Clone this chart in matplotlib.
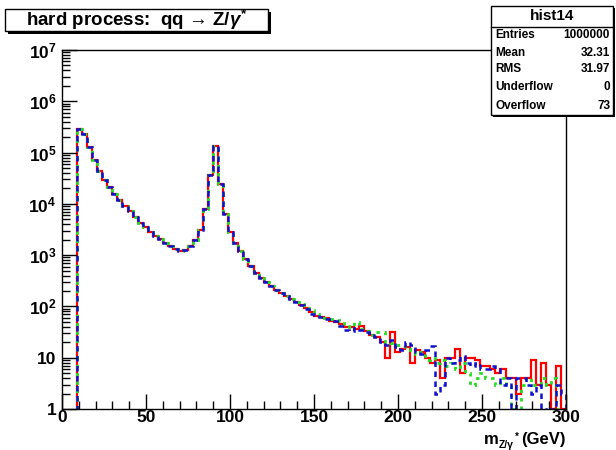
import numpy as np
import matplotlib
matplotlib.use("Agg")
import matplotlib.pyplot as plt
from matplotlib.patches import Rectangle
from matplotlib.ticker import FixedLocator, MultipleLocator, FuncFormatter

plt.rcParams['font.family'] = ['Liberation Sans', 'DejaVu Sans']
plt.rcParams['font.weight'] = 'bold'
plt.rcParams['mathtext.fontset'] = 'custom'
plt.rcParams['mathtext.rm'] = 'Liberation Sans:bold'
plt.rcParams['mathtext.it'] = 'Liberation Sans:italic:bold'
plt.rcParams['mathtext.bf'] = 'Liberation Sans:bold'

# histogramme: 100 bins de 3 GeV entre 0 et 300
bordas = np.arange(0, 301, 3)

# parte comum (0 - 141 GeV), igual nas tres curvas
comum = [0, 0, 0,
         282000, 229000, 126000, 72400, 44700, 29500, 20900, 15500, 11700, 9100,
         7240, 5620, 4270, 3470, 2880, 2400, 2040, 1740, 1480, 1320,
         1230, 1260, 1480, 2000, 3160, 7940, 36300, 132000, 24000, 6310,
         2880, 1740, 1200, 850, 617, 457, 363, 295, 245, 209,
         182, 162, 141, 123]

# cauda (141 - 300 GeV) de cada curva
cauda_vermelho = [107, 93, 79, 66, 63, 60, 52, 50, 45, 40, 40, 37, 42, 33, 28, 25,
                  20, 10, 32, 13, 15, 16, 8, 14, 13, 10, 8, 9, 4, 10, 10, 15,
                  5, 10, 10, 9, 7, 7, 6, 5, 6, 4, 4, 2, 4, 4, 9, 3, 8, 3, 1, 7, 1]
cauda_azul = [105, 89, 71, 69, 63, 58, 56, 52, 42, 35, 33, 38, 35, 32, 30, 25,
              20, 18, 22, 16, 14, 20, 18, 13, 12, 14, 17, 2, 3, 10, 8, 9,
              11, 8, 7, 8, 6, 6, 7, 6, 3, 4, 1, 4, 4, 3, 2, 3, 1, 0, 1, 3, 2]
cauda_verde = [110, 95, 85, 72, 66, 60, 58, 55, 52, 42, 40, 50, 36, 33, 28, 32,
               32, 20, 19, 18, 17, 15, 14, 12, 13, 9, 10, 8, 9, 7, 8, 6,
               8, 5, 3, 4, 5, 4, 4, 3, 4, 3, 1, 1, 3, 4, 3, 3, 4, 3, 4, 1, 0]

vermelho = np.array(comum + cauda_vermelho, dtype=float)
azul = np.array(comum + cauda_azul, dtype=float)
verde = np.array(comum + cauda_verde, dtype=float)

W, H = 616, 450
fig = plt.figure(figsize=(W / 100, H / 100), dpi=100)

def fx(x):
    return x / W

def fy(y):
    return 1 - y / H

ax = fig.add_axes([fx(62), fy(409), fx(566) - fx(62), fy(50) - fy(409)])

base = 0.01
ax.stairs(vermelho, bordas, baseline=base, color='#ff0000', lw=1.6, fill=False)
ax.stairs(verde, bordas, baseline=base, color='#22dd22', lw=2.0, fill=False,
          linestyle=(0, (1.2, 1.8)))
ax.stairs(azul, bordas, baseline=base, color='#1010cc', lw=1.8, fill=False,
          linestyle=(0, (2.2, 1.8)))

ax.set_yscale('log', nonpositive='clip')
ax.set_xlim(0, 300)
ax.set_ylim(1, 1e7)

# eixos no estilo ROOT
ax.xaxis.set_major_locator(MultipleLocator(50))
ax.xaxis.set_minor_locator(MultipleLocator(10))
ax.yaxis.set_major_locator(FixedLocator([10.0 ** k for k in range(8)]))
menores = [m * 10.0 ** k for k in range(7) for m in range(2, 10)]
ax.yaxis.set_minor_locator(FixedLocator(menores))

def rotulo_y(v, pos):
    k = int(round(np.log10(v)))
    if k == 0:
        return '1'
    if k == 1:
        return '10'
    return r'$10^{%d}$' % k

ax.yaxis.set_major_formatter(FuncFormatter(rotulo_y))
ax.tick_params(axis='both', which='both', direction='in', top=False, right=False,
               labelsize=12.5, colors='black')
ax.tick_params(axis='both', which='major', length=11, width=1)
ax.tick_params(axis='both', which='minor', length=6, width=1)
ax.tick_params(axis='x', pad=1)
ax.tick_params(axis='y', pad=4)
for t in ax.get_xticklabels() + ax.get_yticklabels():
    t.set_fontweight('bold')
for s in ax.spines.values():
    s.set_linewidth(1)

# titulo do eixo x: m com indice Z/gamma* (pedacos de texto simples)
fig.text(fx(484), fy(444), 'm', ha='left', va='baseline', fontsize=12,
         fontweight='bold')
fig.text(fx(499), fy(447.5), 'Z/\u03b3', ha='left', va='baseline', fontsize=7.5,
         fontweight='bold')
fig.text(fx(515), fy(440), '*', ha='left', va='baseline', fontsize=7,
         fontweight='bold')
fig.text(fx(566), fy(444), '(GeV)', ha='right', va='baseline', fontsize=12,
         fontweight='bold')

# caixa do titulo com sombra
fig.patches.append(Rectangle((fx(8), fy(34)), fx(268) - fx(5), fy(9) - fy(31),
                             transform=fig.transFigure, facecolor='black',
                             edgecolor='black', lw=0, zorder=1))
fig.patches.append(Rectangle((fx(5), fy(31)), fx(268) - fx(5), fy(9) - fy(31),
                             transform=fig.transFigure, facecolor='white',
                             edgecolor='black', lw=1, zorder=2))
fig.text(fx(137), fy(20), 'hard process:  qq \u2192 Z/$\\gamma^{*}$', ha='center',
         va='center', fontsize=13.5, fontweight='bold', zorder=3)

# caixa de estatisticas
sx0, sx1, sy0, sy1 = 491, 613, 6, 115
fig.patches.append(Rectangle((fx(sx0 + 2), fy(sy1 + 2)), fx(sx1) - fx(sx0), fy(sy0) - fy(sy1),
                             transform=fig.transFigure, facecolor='black', lw=0, zorder=4))
fig.patches.append(Rectangle((fx(sx0), fy(sy1)), fx(sx1) - fx(sx0), fy(sy0) - fy(sy1),
                             transform=fig.transFigure, facecolor='white',
                             edgecolor='black', lw=1, zorder=5))
fig.add_artist(plt.Line2D([fx(sx0), fx(sx1)], [fy(26.7), fy(26.7)],
                          transform=fig.transFigure, color='black', lw=1, zorder=6))
fig.text(fx(552), fy(16.5), 'hist14', ha='center', va='center', fontsize=11,
         fontweight='bold', zorder=7)

nomes = ['Entries', 'Mean', 'RMS', 'Underflow', 'Overflow']
valores = ['1000000', '32.31', '31.97', '0', '73']
linhas_y = [34.5, 52.5, 69.5, 87.5, 106]
for nome, val, yy in zip(nomes, valores, linhas_y):
    fig.text(fx(495), fy(yy), nome, ha='left', va='center', fontsize=8.5,
             fontweight='bold', zorder=7)
    fig.text(fx(610), fy(yy), val, ha='right', va='center', fontsize=8.5,
             fontweight='bold', zorder=7)

fig.savefig('out.png', dpi=100)
